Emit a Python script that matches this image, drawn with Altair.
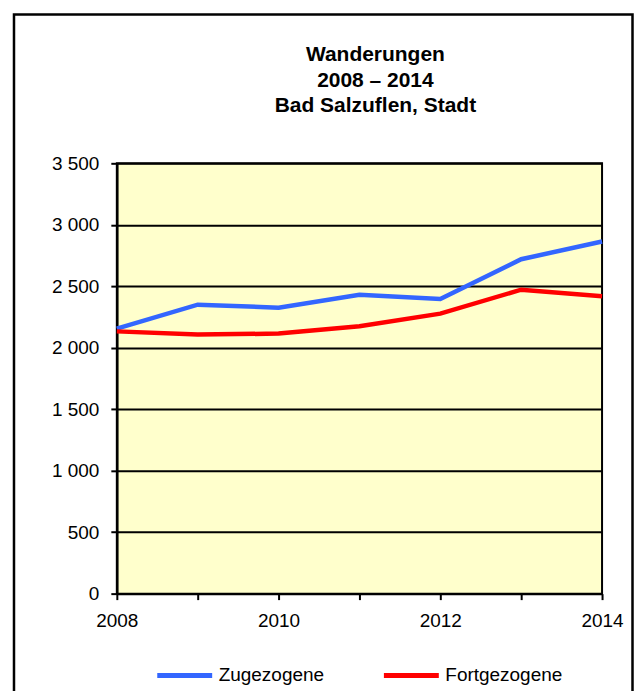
import altair as alt
import pandas as pd

years = [2008, 2009, 2010, 2011, 2012, 2013, 2014]
zugezogene = [2155, 2350, 2326, 2431, 2396, 2720, 2864]
fortgezogene = [2133, 2107, 2115, 2174, 2277, 2472, 2418]
series_names = ["Zugezogene", "Fortgezogene"]
series_colors = ["#3366FF", "#FF0000"]
y_ticks = [0, 500, 1000, 1500, 2000, 2500, 3000, 3500]
title_lines = ["Wanderungen", "2008 – 2014", "Bad Salzuflen, Stadt"]

rows = []
for i, yr in enumerate(years):
    rows.append({"Jahr": yr, "Serie": series_names[0], "Wert": zugezogene[i]})
    rows.append({"Jahr": yr, "Serie": series_names[1], "Wert": fortgezogene[i]})
df = pd.DataFrame(rows)

FONT = "Liberation Sans"

lines = alt.Chart(df).mark_line(strokeWidth=4.5).encode(
    x=alt.X("Jahr:Q",
            scale=alt.Scale(domain=[2008, 2014], nice=False, zero=False),
            axis=alt.Axis(title=None, values=years, format="d",
                          labelExpr="datum.value % 2 == 0 ? datum.label : ''",
                          grid=False, tickSize=6, tickWidth=2, tickColor="black",
                          domainColor="black", domainWidth=2.5,
                          labelFontSize=19, labelFont=FONT, labelColor="black",
                          labelPadding=12, labelFlush=False)),
    y=alt.Y("Wert:Q",
            scale=alt.Scale(domain=[0, 3500], nice=False),
            axis=alt.Axis(title=None, values=y_ticks,
                          labelExpr="replace(format(datum.value, ','), ',', ' ')",
                          grid=True, gridColor="black", gridWidth=2, gridOpacity=1,
                          tickSize=6, tickWidth=2, tickColor="black",
                          domainColor="black", domainWidth=2.5,
                          labelFontSize=19, labelFont=FONT, labelColor="black",
                          labelPadding=12)),
    color=alt.Color("Serie:N",
                    scale=alt.Scale(domain=series_names, range=series_colors),
                    legend=alt.Legend(title=None, orient="none", direction="horizontal",
                                      legendX=38, legendY=483,
                                      symbolType="stroke", symbolSize=3025,
                                      symbolStrokeWidth=5, labelOffset=4,
                                      columnPadding=49, labelFontSize=19,
                                      labelFont=FONT, labelColor="black")),
    order=alt.Order("Jahr:Q"),
)

frame = alt.Chart(pd.DataFrame({"f": [0]})).mark_rect(
    fill="transparent", stroke="black", strokeWidth=2.5
).encode(
    x=alt.value(-103), x2=alt.value(516.5),
    y=alt.value(-149), y2=alt.value(545),
)

chart = alt.layer(frame, lines).properties(
    width=486, height=431,
    padding={"left": 4, "top": 4, "right": 0, "bottom": 0},
    title=alt.TitleParams(text=title_lines, font=FONT, fontSize=21, fontWeight="bold",
                          color="black", lineHeight=25.5, anchor="middle",
                          frame="group", dx=16, offset=-103),
).configure(
    background="white"
).configure_view(
    fill="#FFFFCC", stroke="black", strokeWidth=2
)

chart.save("out.html", embed_options={"renderer": "svg", "actions": False})
